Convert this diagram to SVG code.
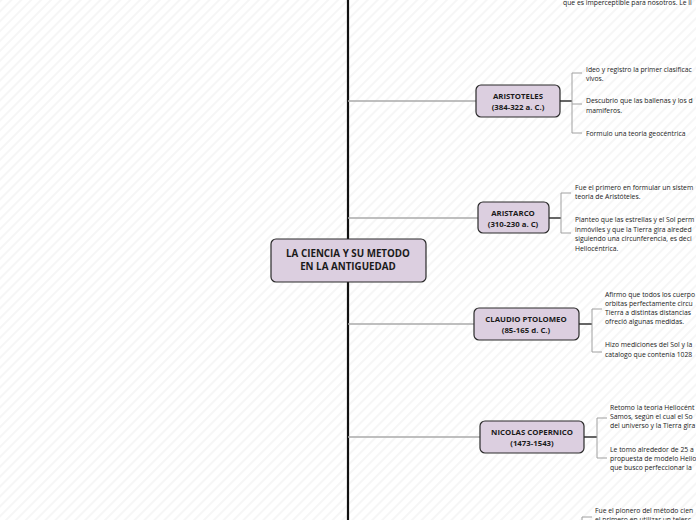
<svg xmlns="http://www.w3.org/2000/svg" width="696" height="520" viewBox="0 0 696 520">
<defs>
<pattern id="stripes" width="7" height="7" patternUnits="userSpaceOnUse" patternTransform="rotate(45)">
<rect width="7" height="7" fill="#ffffff"/>
<line x1="1" y1="0" x2="1" y2="7" stroke="#f4f4f4" stroke-width="1.5"/>
</pattern>
</defs>
<style>
.node{fill:#dccfe0;stroke:#2a2a2a;stroke-width:1.2}
.nt{font-family:"Open Sans","DejaVu Sans",sans-serif;font-weight:bold;font-size:7.8px;fill:#1a1a1a;text-anchor:middle}
.ct{font-family:"Open Sans","DejaVu Sans",sans-serif;font-weight:bold;font-size:9.8px;fill:#1a1a1a;text-anchor:middle}
.tx{font-family:"Open Sans","DejaVu Sans",sans-serif;font-size:6.8px;fill:#222}
.branch{stroke:#aaaaaa;stroke-width:1.5;fill:none}
.stub{stroke:#333;stroke-width:1.5;fill:none}
.brk{stroke:#a0a0a0;stroke-width:1;fill:none}
.spine{stroke:#111;stroke-width:2.2;fill:none}
</style>
<rect width="696" height="520" fill="url(#stripes)"/>
<g id="connectors">
<line class="spine" x1="348" y1="0" x2="348" y2="520"/>
<line class="branch" x1="348" y1="101" x2="476" y2="101"/>
<line class="branch" x1="348" y1="218" x2="478" y2="218"/>
<line class="branch" x1="348" y1="324" x2="474" y2="324"/>
<line class="branch" x1="348" y1="437" x2="480" y2="437"/>
<line class="stub" x1="560" y1="101" x2="572" y2="101"/>
<path class="brk" d="M582,73 H572 V133 H582 M572,104 H582"/>
<line class="stub" x1="549" y1="218" x2="561" y2="218"/>
<path class="brk" d="M571,193 H561 V233 H571"/>
<line class="stub" x1="579" y1="324" x2="592" y2="324"/>
<path class="brk" d="M602,309 H592 V352 H602"/>
<line class="stub" x1="584" y1="437" x2="597" y2="437"/>
<path class="brk" d="M607,418 H597 V458 H607"/>
<path class="brk" d="M592,517 H582 V520"/>
</g>
<g id="center">
<rect class="node" x="271" y="239" width="155" height="43" rx="5"/>
<text class="ct" x="348" y="257">LA CIENCIA Y SU METODO</text>
<text class="ct" x="348" y="270">EN LA ANTIGUEDAD</text>
</g>
<g id="aristoteles">
<rect class="node" x="476" y="85" width="84" height="32" rx="5"/>
<text class="nt" x="518" y="99">ARISTOTELES</text>
<text class="nt" x="518" y="110">(384-322 a. C.)</text>
</g>
<g id="aristarco">
<rect class="node" x="478" y="202" width="71" height="31" rx="5"/>
<text class="nt" x="513" y="216">ARISTARCO</text>
<text class="nt" x="513" y="227">(310-230 a. C)</text>
</g>
<g id="ptolomeo">
<rect class="node" x="474" y="308" width="105" height="32" rx="5"/>
<text class="nt" x="526" y="322">CLAUDIO PTOLOMEO</text>
<text class="nt" x="526" y="333">(85-165 d. C.)</text>
</g>
<g id="copernico">
<rect class="node" x="480" y="421" width="104" height="32" rx="5"/>
<text class="nt" x="532" y="435">NICOLAS COPERNICO</text>
<text class="nt" x="532" y="446">(1473-1543)</text>
</g>
<g id="texts">
<text class="tx" x="563" y="5">que es imperceptible para nosotros. Le ll</text>
<text class="tx" x="586" y="72">Ideo y registro la primer clasificac</text>
<text class="tx" x="586" y="81">vivos.</text>
<text class="tx" x="586" y="103">Descubrio que las ballenas y los d</text>
<text class="tx" x="586" y="113">mamiferos.</text>
<text class="tx" x="586" y="136">Formulo una teoria geocéntrica</text>
<text class="tx" x="575" y="190">Fue el primero en formular un sistem</text>
<text class="tx" x="575" y="199">teoria de  Aristóteles.</text>
<text class="tx" x="575" y="222">Planteo que las estrellas  y el Sol perm</text>
<text class="tx" x="575" y="232">inmóviles y que la Tierra gira alreded</text>
<text class="tx" x="575" y="241">siguiendo una circunferencia, es deci</text>
<text class="tx" x="575" y="251">Heliocéntrica.</text>
<text class="tx" x="605" y="297">Afirmo que todos los cuerpo</text>
<text class="tx" x="605" y="306">orbitas perfectamente circu</text>
<text class="tx" x="605" y="315">Tierra a distintas distancias</text>
<text class="tx" x="605" y="324">ofreció algunas medidas.</text>
<text class="tx" x="605" y="347">Hizo mediciones del Sol y la</text>
<text class="tx" x="605" y="357">catalogo que contenía 1028</text>
<text class="tx" x="610" y="410">Retomo la teoria Heliocént</text>
<text class="tx" x="610" y="419">Samos, según el cual el So</text>
<text class="tx" x="610" y="428">del universo y la Tierra gira</text>
<text class="tx" x="610" y="452">Le tomo alrededor de 25 a</text>
<text class="tx" x="610" y="461">propuesta de modelo Helio</text>
<text class="tx" x="610" y="470">que busco perfeccionar la</text>
<text class="tx" x="595" y="513">Fue el pionero del método cien</text>
<text class="tx" x="595" y="522">el primero en utilizar un telesc</text>
</g>
</svg>
